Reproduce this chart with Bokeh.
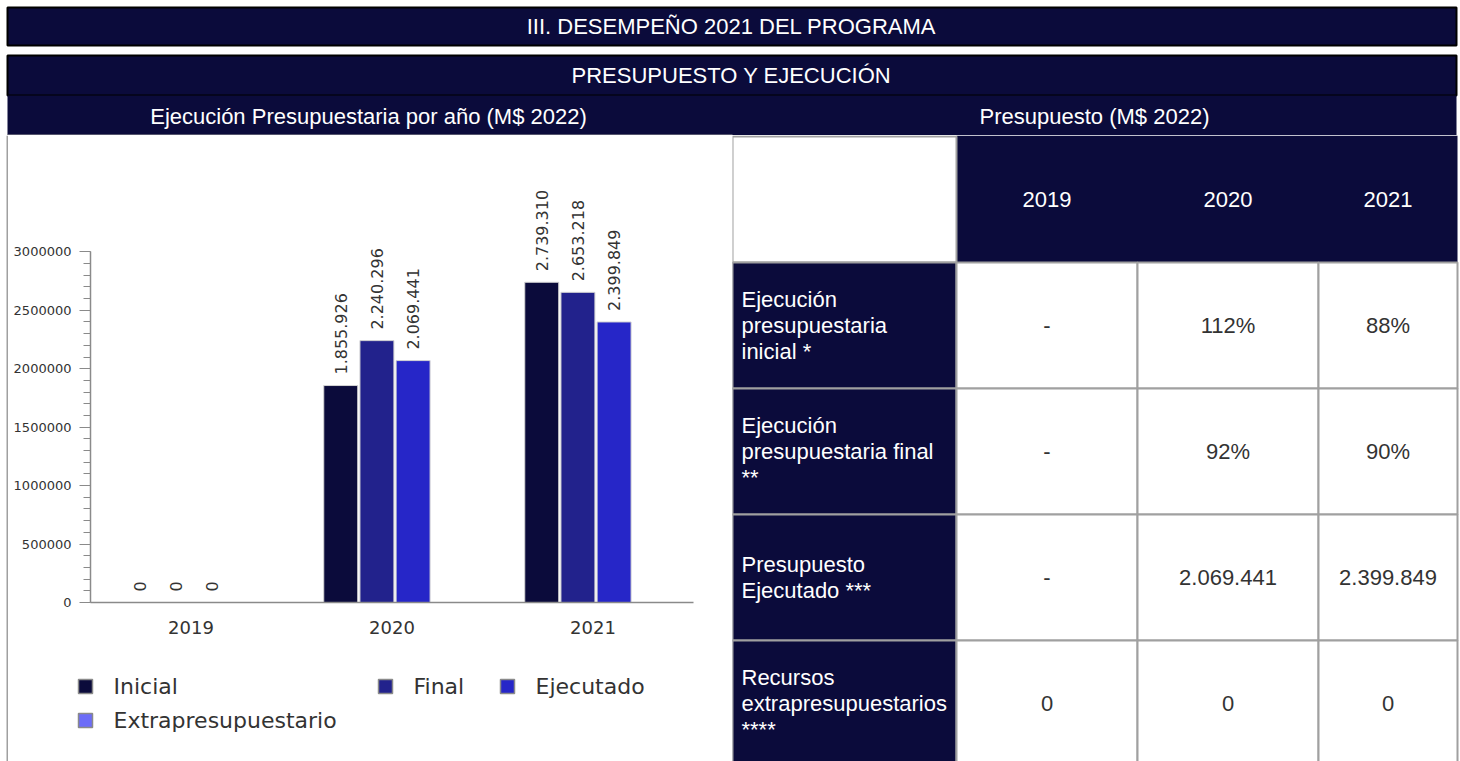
import math
from bokeh.plotting import figure
from bokeh.layouts import column, row
from bokeh.models import Range1d, FactorRange, SingleIntervalTicker, NumeralTickFormatter, ColumnDataSource
from bokeh.transform import dodge
from bokeh.core.properties import value
from bokeh.embed import file_html
from bokeh.resources import INLINE

# ---------------- data ----------------
years = ["2019", "2020", "2021"]
series_names = ["Inicial", "Final", "Ejecutado", "Extrapresupuestario"]
inicial = [0, 1855926, 2739310]
final = [0, 2240296, 2653218]
ejecutado = [0, 2069441, 2399849]
extrapresupuestario = [0, 0, 0]
y_axis_max = 3000000
y_tick_step = 500000

title_main = "III. DESEMPEÑO 2021 DEL PROGRAMA"
title_sub = "PRESUPUESTO Y EJECUCIÓN"
header_left = "Ejecución Presupuestaria por año (M$ 2022)"
header_right = "Presupuesto (M$ 2022)"

table_row_labels = [
    ["Ejecución", "presupuestaria", "inicial *"],
    ["Ejecución", "presupuestaria final", "**"],
    ["Presupuesto", "Ejecutado ***"],
    ["Recursos", "extrapresupuestarios", "****"],
]
ejec_inicial_pct = ["-", "112%", "88%"]
ejec_final_pct = ["-", "92%", "90%"]
presupuesto_ejecutado = ["-", "2.069.441", "2.399.849"]
recursos_extra = ["0", "0", "0"]
table_values = [ejec_inicial_pct, ejec_final_pct, presupuesto_ejecutado, recursos_extra]

# ---------------- styles ----------------
NAVY = "#0b0b3b"
GREY = "#a0a0a0"
series_colors = ["#0b0b3b", "#22228c", "#2626c8", "#6c6cf8"]
ARIAL = value("Liberation Sans")
DEJAVU = value("DejaVu Sans")
HTML_FONT_SIZE = "22px"


def bare(fig):
    fig.xgrid.visible = False
    fig.ygrid.visible = False
    return fig


def blank_fig(w, h, x0, x1, ytop, ybot):
    f = figure(width=w, height=h, x_range=Range1d(x0, x1), y_range=Range1d(ybot, ytop),
               x_axis_location=None, y_axis_location=None, min_border=0,
               outline_line_color=None, output_backend="svg", toolbar_location=None)
    return bare(f)


# ---------------- top header band ----------------
top = blank_fig(1460, 135, 0, 1460, 0, 135)
top.quad(left=[7, 7], right=[1456, 1456], top=[7, 55], bottom=[45, 95],
         fill_color=NAVY, line_color="black", line_width=2)
top.quad(left=[7], right=[1456], top=[95], bottom=[135], fill_color=NAVY, line_color=None)
top.segment(x0=[7], y0=[135], x1=[732], y1=[135], line_color=GREY, line_width=2)
top.text(x=[731, 731, 368, 1094], y=[26, 75, 116, 116],
         text=[title_main, title_sub, header_left, header_right],
         text_align="center", text_baseline="middle", text_color="white",
         text_font=ARIAL, text_font_size=HTML_FONT_SIZE)

# ---------------- left grey strip ----------------
strip = blank_fig(8, 626, 0, 8, 135, 761)
strip.segment(x0=[7], y0=[135], x1=[7], y1=[761], line_color=GREY, line_width=2)

# ---------------- bar chart ----------------
CHART_H = 515
FRAME_TOP_PX = 15
FRAME_BOTTOM_BORDER = 48
FRAME_H = CHART_H - FRAME_TOP_PX - FRAME_BOTTOM_BORDER
PX_PER_3M = 350.7
y_end = y_axis_max * FRAME_H / PX_PER_3M

chart = figure(width=724, height=CHART_H,
               x_range=FactorRange(factors=years, range_padding=0),
               y_range=Range1d(0, y_end),
               min_border_left=82, min_border_right=39, min_border_top=FRAME_TOP_PX,
               min_border_bottom=FRAME_BOTTOM_BORDER, outline_line_color=None,
               output_backend="svg", toolbar_location=None)
bare(chart)

offsets = [-0.255, -0.075, 0.105, 0.285]
bar_w = 0.169
all_series = [inicial, final, ejecutado, extrapresupuestario]
for k, vals in enumerate(all_series):
    src = ColumnDataSource(dict(x=years, top=vals,
                                label=[f"{v:,}".replace(",", ".") for v in vals]))
    xs = dodge("x", offsets[k], range=chart.x_range)
    chart.vbar(x=xs, top="top", width=bar_w, source=src,
               fill_color=series_colors[k], line_color="#d4d4d4", line_width=1)
    if k < 3:
        chart.text(x=xs, y="top", text="label", source=src, angle=math.pi / 2,
                   text_align="left", text_baseline="middle", y_offset=-11,
                   text_font=DEJAVU, text_font_size="16px", text_color="#333333")

yax = chart.yaxis[0]
yax.bounds = (0, y_axis_max)
yax.ticker = SingleIntervalTicker(interval=y_tick_step, num_minor_ticks=5)
yax.formatter = NumeralTickFormatter(format="0")
yax.major_tick_out = 11
yax.major_tick_in = 0
yax.minor_tick_out = 7
yax.minor_tick_in = 0
yax.major_label_standoff = 8
yax.major_label_text_font = "DejaVu Sans"
yax.major_label_text_font_size = "13px"
yax.major_label_text_color = "#333333"

xax = chart.xaxis[0]
xax.major_tick_out = 0
xax.major_tick_in = 0
xax.major_label_standoff = 18
xax.major_label_text_font = "DejaVu Sans"
xax.major_label_text_font_size = "18px"
xax.major_label_text_color = "#333333"

for ax in (xax, yax):
    ax.axis_line_color = "#8a8a8a"
    ax.axis_line_width = 1.5
    ax.major_tick_line_color = "#8a8a8a" if ax is yax else None
    ax.minor_tick_line_color = "#8a8a8a" if ax is yax else None

# ---------------- legend (own small canvas below the chart) ----------------
leg = blank_fig(724, 626 - CHART_H, 8, 732, 135 + CHART_H, 761)
legend_sq_x = [85, 385, 507, 85]
legend_sq_y = [686, 686, 686, 720]
leg.rect(x=legend_sq_x, y=legend_sq_y, width=14, height=14,
         fill_color=series_colors, line_color="#8a8a8a", line_width=1.5)
leg.text(x=[x + 28 for x in legend_sq_x], y=legend_sq_y, text=series_names,
         text_align="left", text_baseline="middle", text_font=DEJAVU,
         text_font_size="22px", text_color="#333333")

left_panel = column(column(chart), column(leg), spacing=0)

# ---------------- table ----------------
tab = blank_fig(728, 626, 732, 1460, 135, 761)
col_edges = [956, 1137, 1318, 1457]
col_centers = [(a + b) / 2 for a, b in zip(col_edges[:-1], col_edges[1:])]
HEAD_BOTTOM = 262
ROW_H = 126

tab.quad(left=[956], right=[1457], top=[135], bottom=[HEAD_BOTTOM], fill_color=NAVY, line_color=None)
tab.quad(left=[732], right=[956], top=[136], bottom=[HEAD_BOTTOM], fill_color="white",
         line_color=GREY, line_width=2)
tab.text(x=col_centers, y=[199] * 3, text=years, text_align="center", text_baseline="middle",
         text_color="white", text_font=ARIAL, text_font_size=HTML_FONT_SIZE)

for i, (labels, vals) in enumerate(zip(table_row_labels, table_values)):
    rt = HEAD_BOTTOM + ROW_H * i
    rb = rt + ROW_H
    tab.quad(left=[732], right=[956], top=[rt], bottom=[rb], fill_color=NAVY,
             line_color=GREY, line_width=2)
    tab.quad(left=col_edges[:-1], right=col_edges[1:], top=[rt] * 3, bottom=[rb] * 3,
             fill_color="white", line_color=GREY, line_width=2)
    mid = rt + ROW_H / 2
    n = len(labels)
    ys = [mid + (j - (n - 1) / 2) * 26 for j in range(n)]
    tab.text(x=[741] * n, y=ys, text=labels, text_align="left", text_baseline="middle",
             text_color="white", text_font=ARIAL, text_font_size=HTML_FONT_SIZE)
    tab.text(x=col_centers, y=[mid] * 3, text=vals, text_align="center", text_baseline="middle",
             text_color="#333333", text_font=ARIAL, text_font_size=HTML_FONT_SIZE)

# each plot is wrapped in its own column so that Bokeh does not align their frames
lower = row(column(strip), left_panel, column(tab), spacing=0)
page = column(top, lower, spacing=0)

open("out.html", "w").write(file_html(page, INLINE))
